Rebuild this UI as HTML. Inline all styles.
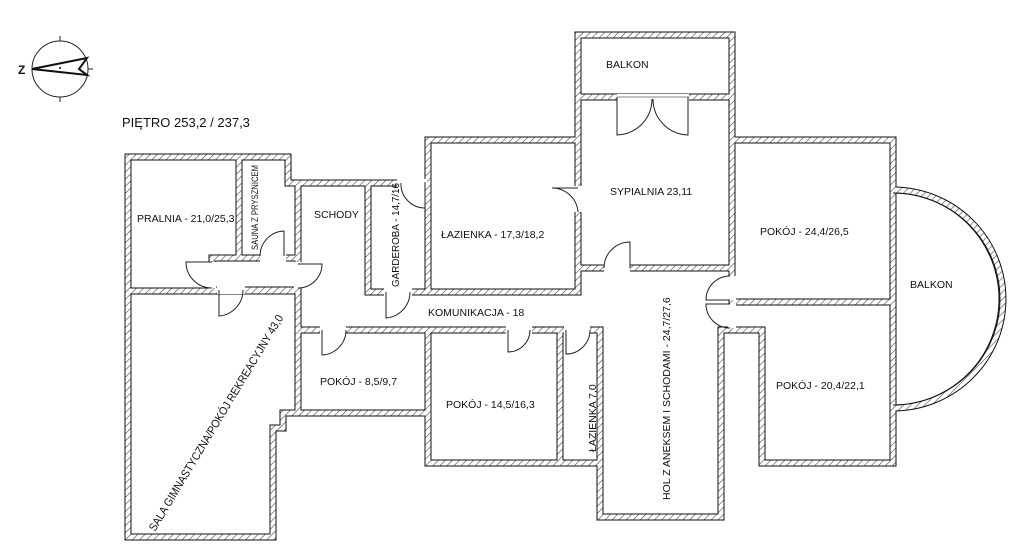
<!DOCTYPE html>
<html><head><meta charset="utf-8"><style>
html,body{margin:0;padding:0;background:#fff;width:1024px;height:553px;overflow:hidden}
svg{display:block}
text{font-family:"Liberation Sans",sans-serif;font-size:10.5px;fill:#111}
</style></head><body>
<svg width="1024" height="553" viewBox="0 0 1024 553" xmlns="http://www.w3.org/2000/svg">
<defs>
<pattern id="h" width="5" height="5" patternUnits="userSpaceOnUse" patternTransform="rotate(45)">
<rect width="5" height="5" fill="#fff"/><line x1="0" y1="0" x2="0" y2="5" stroke="#555" stroke-width="1.3"/>
</pattern>
<g id="w">
<path d="M128,291 V157 H288 V183 H428"/>
<path d="M239,157 V258"/>
<rect x="212" y="258" width="86" height="32"/>
<path d="M298,183 V413"/>
<path d="M128,291 V537 H273 V428 H283 V413 H298 M128,291 H298"/>
<path d="M368,183 V292 H428"/>
<rect x="428" y="140" width="150" height="152"/>
<rect x="578" y="35" width="154" height="62"/>
<path d="M578,97 V292 M578,268 H732 M732,97 V140"/>
<path d="M732,140 H893 V463 H762 V330 H732 M732,140 V302 H893"/>
<path d="M298,330 H600 V517 H721 V330 H732 V268"/>
<path d="M298,413 H428 M428,330 V463 H560 V330 M560,463 H600"/>
<path d="M893,190 A110,109 0 0 1 893,408"/>
</g>
</defs>
<!-- compass -->
<circle cx="60" cy="69" r="28" fill="none" stroke="#222" stroke-width="1"/>
<line x1="60" y1="36" x2="60" y2="41" stroke="#222"/><line x1="60" y1="97" x2="60" y2="102" stroke="#222"/><line x1="88" y1="69" x2="93" y2="69" stroke="#222"/>
<path d="M32,69 L87,58 L79,69 L87,75 Z" fill="none" stroke="#111" stroke-width="2"/>
<circle cx="60" cy="68" r="1" fill="#111"/>
<text x="18" y="74" style="font-size:12px;font-weight:bold">Z</text>
<text x="122" y="127" style="font-size:13px">PIĘTRO 253,2 / 237,3</text>

<g fill="none" stroke-linejoin="miter" stroke-linecap="square">
<use href="#w" stroke="#111" stroke-width="7"/>
<use href="#w" stroke="url(#h)" stroke-width="5"/>
</g>
<!-- door openings -->
<g fill="#fff" stroke="none">
<rect x="617" y="94" width="72" height="7"/>
<rect x="574" y="186" width="8" height="26"/>
<rect x="397" y="179" width="30" height="8"/>
<rect x="604" y="264" width="26" height="8"/>
<rect x="384" y="288" width="28" height="8"/>
<rect x="217" y="286" width="28" height="8"/>
<rect x="320" y="326" width="26" height="8"/>
<rect x="506" y="326" width="26" height="8"/>
<rect x="564" y="326" width="26" height="8"/>
<rect x="728" y="276" width="8" height="24"/>
<rect x="728" y="304" width="8" height="24"/>
<rect x="294" y="262" width="8" height="26"/>
<rect x="208" y="262" width="8" height="26"/>
<rect x="260" y="254" width="26" height="8"/>
</g>
<g fill="none" stroke="#222" stroke-width="1">
<line x1="617" y1="97" x2="689" y2="97" stroke="#888"/>
<path d="M617,97 V135 A36,36 0 0 0 652,99"/>
<path d="M688,97 V135 A36,36 0 0 1 653,99"/>
<path d="M578,188 H552 A26,26 0 0 1 578,212"/>
<path d="M425,182 V208 A24,24 0 0 1 401,183"/>
<path d="M630,268 V242 A26,26 0 0 0 604,268"/>
<path d="M386,292 V318 A26,26 0 0 0 410,292"/>
<path d="M219,290 V316 A26,26 0 0 0 243,290"/>
<path d="M322,330 V355 A25,25 0 0 0 346,330"/>
<path d="M508,330 V352 A22,22 0 0 0 530,330"/>
<path d="M566,330 V354 A24,24 0 0 0 590,330"/>
<path d="M730,300 H706 A24,24 0 0 1 730,276"/>
<path d="M730,304 H706 A24,24 0 0 0 730,328"/>
<path d="M298,264 H322 A24,24 0 0 1 298,288"/>
<path d="M212,262 H186 A26,26 0 0 0 212,288"/>
<path d="M284,256 V231 A25,25 0 0 0 260,256"/>
<path d="M893,193 A104,104 0 0 1 893,405" stroke="#111"/>
</g>

<text x="606" y="68">BALKON</text>
<text x="610" y="195">SYPIALNIA 23,11</text>
<text x="137" y="222">PRALNIA - 21,0/25,3</text>
<text x="314" y="218">SCHODY</text>
<text x="441" y="238">ŁAZIENKA - 17,3/18,2</text>
<text x="760" y="235">POKÓJ - 24,4/26,5</text>
<text x="910" y="288">BALKON</text>
<text x="428" y="316">KOMUNIKACJA - 18</text>
<text x="320" y="385">POKÓJ - 8,5/9,7</text>
<text x="446" y="408">POKÓJ - 14,5/16,3</text>
<text x="776" y="389">POKÓJ - 20,4/22,1</text>
<text transform="translate(258,250) rotate(-90)" style="font-size:9px" textLength="85" lengthAdjust="spacingAndGlyphs">SAUNA Z PRYSZNICEM</text>
<text transform="translate(399,287) rotate(-90)" textLength="104" lengthAdjust="spacingAndGlyphs">GARDEROBA - 14,7/16</text>
<text transform="translate(596,452) rotate(-90)">ŁAZIENKA 7,0</text>
<text transform="translate(670,500) rotate(-90)">HOL Z ANEKSEM I SCHODAMI - 24,7/27,6</text>
<text transform="translate(155,532) rotate(-59)" style="font-size:11.5px" textLength="250" lengthAdjust="spacingAndGlyphs">SALA GIMNASTYCZNA/POKÓJ REKREACYJNY 43,0</text>
</svg>
</body></html>
